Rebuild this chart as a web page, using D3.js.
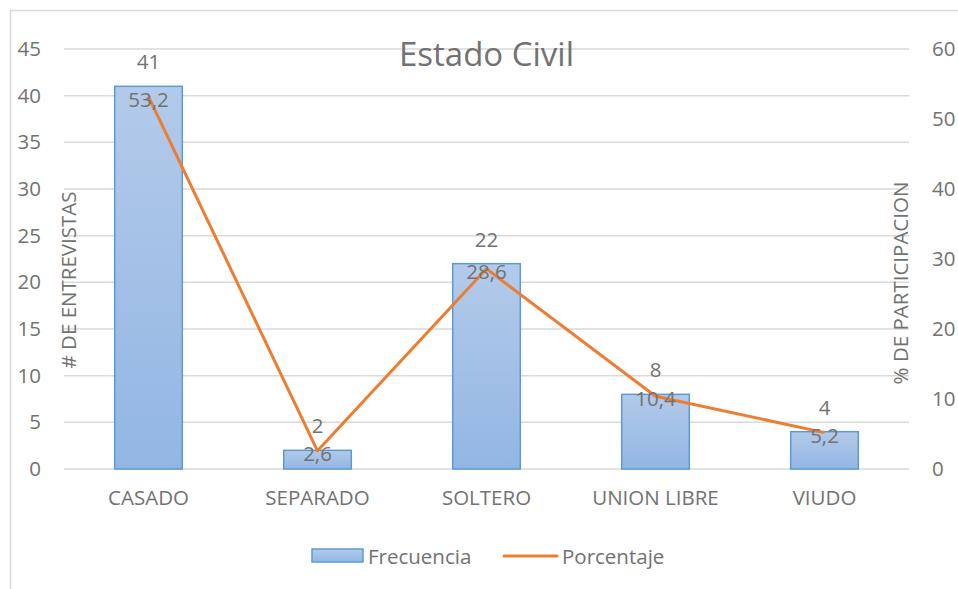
<!DOCTYPE html>
<html>
<head>
<meta charset="utf-8">
<script src="https://cdn.jsdelivr.net/npm/d3@7"></script>
<style>
html,body{margin:0;padding:0;background:#fff;}
svg{display:block;font-family:"Open Sans",sans-serif;}
</style>
</head>
<body>
<svg id="chart" width="958" height="589"></svg>
<script>
const categories = ["CASADO","SEPARADO","SOLTERO","UNION LIBRE","VIUDO"];
const frecuencia = [41, 2, 22, 8, 4];
const porcentaje = [53.2, 2.6, 28.6, 10.4, 5.2];
const porcentajeLabels = ["53,2","2,6","28,6","10,4","5,2"];
const leftTicks = [0,5,10,15,20,25,30,35,40,45];
const rightTicks = [0,10,20,30,40,50,60];

const svg = d3.select("#chart");
const W = 958, H = 589;
const m = {left:64, right:49, top:49, bottom:120};
const x0 = m.left, x1 = W - m.right, y0 = H - m.bottom, y1 = m.top;
const textCol = "#727272";
const fs = "20.5px";

// outer border
svg.append("rect").attr("x",10.5).attr("y",10.5).attr("width",W).attr("height",H)
  .attr("fill","none").attr("stroke","#d9d9d9").attr("stroke-width",1.5);

const defs = svg.append("defs");
const grad = defs.append("linearGradient").attr("id","barGrad").attr("x1",0).attr("y1",0).attr("x2",0).attr("y2",1);
grad.append("stop").attr("offset","0%").attr("stop-color","#b3caea");
grad.append("stop").attr("offset","100%").attr("stop-color","#92b6e3");

const x = d3.scaleBand().domain(categories).range([x0,x1]).paddingInner(0.6).paddingOuter(0.3);
const yL = d3.scaleLinear().domain([0,45]).range([y0,y1]);
const yR = d3.scaleLinear().domain([0,60]).range([y0,y1]);

// gridlines
svg.append("g").selectAll("line").data(leftTicks).join("line")
  .attr("x1",x0).attr("x2",x1)
  .attr("y1",d=>yL(d)).attr("y2",d=>yL(d))
  .attr("stroke","#d9d9d9").attr("stroke-width",1.5);

// left axis
const axL = svg.append("g").attr("transform",`translate(${x0},0)`)
  .call(d3.axisLeft(yL).tickValues(leftTicks).tickSize(0).tickPadding(23).tickFormat(d3.format("d")));
axL.select(".domain").remove();
axL.selectAll("text").attr("fill",textCol).style("font-size",fs).style("font-family","Open Sans");

// right axis
const axR = svg.append("g").attr("transform",`translate(${x1},0)`)
  .call(d3.axisRight(yR).tickValues(rightTicks).tickSize(0).tickPadding(23).tickFormat(d3.format("d")));
axR.select(".domain").remove();
axR.selectAll("text").attr("fill",textCol).style("font-size",fs).style("font-family","Open Sans");

// bottom axis
const axB = svg.append("g").attr("transform",`translate(0,${y0})`)
  .call(d3.axisBottom(x).tickSize(0).tickPadding(21));
axB.select(".domain").remove();
axB.selectAll("text").attr("fill",textCol).style("font-size",fs).style("font-family","Open Sans");

// bars
svg.append("g").selectAll("rect").data(categories).join("rect")
  .attr("x",d=>x(d)).attr("width",x.bandwidth())
  .attr("y",(d,i)=>yL(frecuencia[i])).attr("height",(d,i)=>y0 - yL(frecuencia[i]))
  .attr("fill","url(#barGrad)").attr("stroke","#5b9bd5").attr("stroke-width",1.5);

// line
const line = d3.line().x((d,i)=>x(categories[i]) + x.bandwidth()/2).y(d=>yR(d));
svg.append("path").datum(porcentaje).attr("d",line)
  .attr("fill","none").attr("stroke","#ed7d31").attr("stroke-width",3).attr("stroke-linejoin","round");

// bar labels
svg.append("g").selectAll("text").data(categories).join("text")
  .attr("x",d=>x(d)+x.bandwidth()/2).attr("y",(d,i)=>yL(frecuencia[i]) - 25)
  .attr("text-anchor","middle").attr("dominant-baseline","central")
  .attr("fill",textCol).style("font-size",fs).text((d,i)=>frecuencia[i]);

// line labels
svg.append("g").selectAll("text").data(categories).join("text")
  .attr("x",d=>x(d)+x.bandwidth()/2).attr("y",(d,i)=>yR(porcentaje[i]) + 2)
  .attr("text-anchor","middle").attr("dominant-baseline","central")
  .attr("fill",textCol).style("font-size",fs).text((d,i)=>porcentajeLabels[i]);

// title
svg.append("text").attr("x",(x0+x1)/2).attr("y",53).attr("text-anchor","middle")
  .attr("dominant-baseline","central").attr("fill",textCol).style("font-size","33px").text("Estado Civil");

// axis titles
svg.append("text").attr("transform",`translate(68,280) rotate(-90)`)
  .attr("text-anchor","middle").attr("dominant-baseline","central")
  .attr("fill",textCol).style("font-size",fs).text("# DE ENTREVISTAS");
svg.append("text").attr("transform",`translate(900,283) rotate(-90)`)
  .attr("text-anchor","middle").attr("dominant-baseline","central")
  .attr("fill",textCol).style("font-size",fs).text("% DE PARTICIPACION");

// legend
const lg = svg.append("g");
lg.append("rect").attr("x",312).attr("y",549).attr("width",51).attr("height",13)
  .attr("fill","url(#barGrad)").attr("stroke","#5b9bd5").attr("stroke-width",1.5);
lg.append("text").attr("x",368).attr("y",556).attr("dominant-baseline","central")
  .attr("fill",textCol).style("font-size",fs).text("Frecuencia");
lg.append("line").attr("x1",504).attr("x2",557).attr("y1",556).attr("y2",556)
  .attr("stroke","#ed7d31").attr("stroke-width",3).attr("stroke-linecap","round");
lg.append("text").attr("x",562).attr("y",556).attr("dominant-baseline","central")
  .attr("fill",textCol).style("font-size",fs).text("Porcentaje");
</script>
</body>
</html>
